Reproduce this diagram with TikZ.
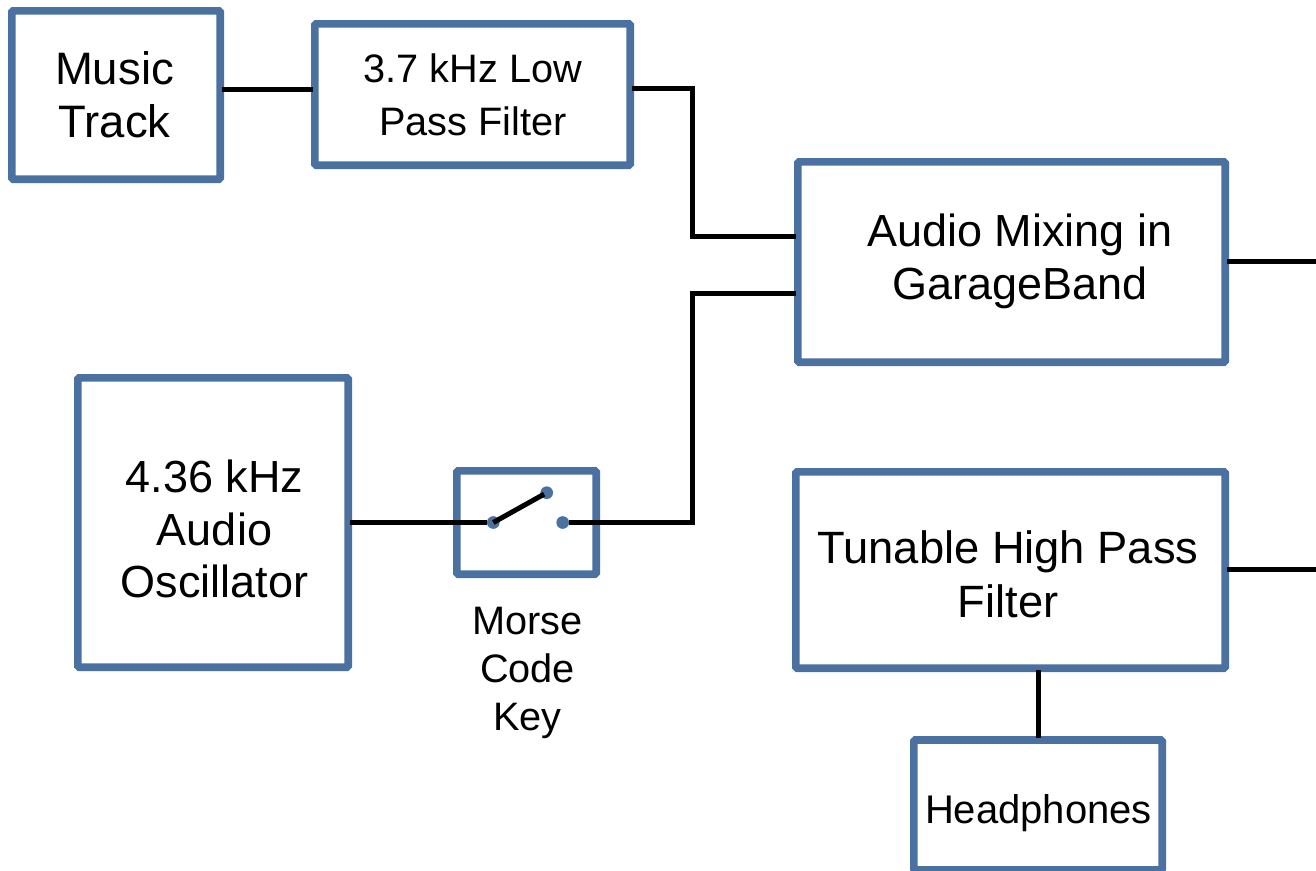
\documentclass[tikz,border=0pt]{standalone}
\usepackage{fontspec}
\setmainfont{Liberation Sans}
\usepackage{xcolor}
\definecolor{boxblue}{HTML}{4A71A0}
\usepackage{tikz}
\usetikzlibrary{positioning}

\begin{document}
\begin{tikzpicture}[x=1pt,y=-1pt, block/.style={
	rectangle, rounded corners = 1.5pt, line width = 7.6pt, outer sep = 2pt,
	draw = boxblue, fill = white, inner sep = 0pt},
	caption/.style={align = center, inner sep = 0pt},
	wire/.style={line width = 5pt, draw = black},
	contact/.style={circle, fill = boxblue, inner sep = 0pt, minimum size = 12.7pt}]
	\useasboundingbox (0,0) rectangle (1316,870);
	\node (music) [block, minimum width = 208.4pt, minimum height = 168.4pt] at (116,95) {};
	\node (lowpass) [block, minimum width = 315.4pt, minimum height = 141.4pt] at (472.5,94.5) {};
	\node (mixing) [block, minimum width = 427.4pt, minimum height = 200.4pt] at (1011.5,262) {};
	\node (oscillator) [block, minimum width = 270.4pt, minimum height = 289.4pt] at (213,522.5) {};
	\node (keybox) [block, minimum width = 139.4pt, minimum height = 103.4pt] at (526.5,522.5) {};
	\node (highpass) [block, minimum width = 429.4pt, minimum height = 196.4pt] at (1010.5,570) {};
	\node (headphones) [block, minimum width = 248.4pt, minimum height = 130pt] at (1038,805) {};
	\node (musictext) [caption, font = \fontsize{45.5}{53.5}\selectfont] at (114.5,94.5) {Music\\Track};
	\node (lowpasstext) [caption, font = \fontsize{39.7}{53}\selectfont] at (473,94.5) {3.7 kHz Low\\Pass Filter};
	\node (mixingtext) [caption, font = \fontsize{45}{53}\selectfont] at (1020,261.5) {Audio Mixing in\\GarageBand};
	\node (oscillatortext) [caption, font = \fontsize{45}{52.5}\selectfont] at (214.5,529) {4.36 kHz\\Audio\\Oscillator};
	\node (highpasstext) [caption, font = \fontsize{45.3}{54}\selectfont] at (1008,574) {Tunable High Pass\\Filter};
	\node (headphonestext) [caption, font = \fontsize{40}{47}\selectfont] at (1038.5,813) {Headphones};
	\node (keylabel) [caption, font = \fontsize{39.7}{48}\selectfont] at (527.5,673) {Morse\\Code\\Key};
	\node (contactA) [contact] at (493.3,522.5) {};
	\node (contactB) [contact] at (546.7,492.7) {};
	\node (contactC) [contact] at (562.7,522.5) {};
	\coordinate (bendA) at (692,88);
	\coordinate (bendB) at (692,236);
	\coordinate (bendC) at (692,522.5);
	\coordinate (bendD) at (692,293);
	\coordinate (mixout) at (1316,261);
	\coordinate (highout) at (1316,569);
	\draw [wire] (music.east |- 0,89) -- (lowpass.west |- 0,89);
	\draw [wire] (lowpass.east |- bendA) -- (bendA) -- (bendB) -- (mixing.west |- bendB);
	\draw [wire] (oscillator.east |- bendC) -- (contactA);
	\draw [wire, shorten > = 3pt] (contactA.center) -- (contactB.center);
	\draw [wire] (contactC) -- (bendC) -- (bendD) -- (mixing.west |- bendD);
	\draw [wire] (mixing.east |- mixout) -- (mixout);
	\draw [wire] (highpass.east |- highout) -- (highout);
	\draw [wire] (headphones.north) -- (highpass.south -| headphones.north);
\end{tikzpicture}
\end{document}
